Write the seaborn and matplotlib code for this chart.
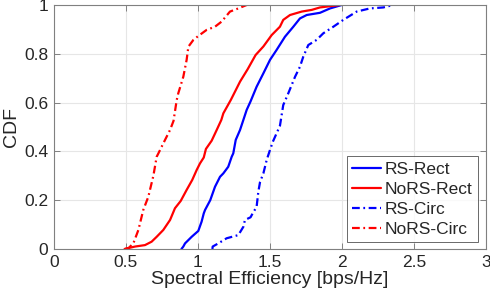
import numpy as np
import pandas as pd
import matplotlib
matplotlib.use("Agg")
import matplotlib.pyplot as plt
import seaborn as sns

# ---- data (CDF level vs spectral efficiency) ----
series_names = ["RS-Rect", "NoRS-Rect", "RS-Circ", "NoRS-Circ"]

rs_rect_x = [0.885, 0.898, 0.91, 0.956, 1.002, 1.025, 1.04, 1.049, 1.085, 1.118, 1.153, 1.176,
             1.21, 1.234, 1.245, 1.262, 1.292, 1.31, 1.338, 1.365, 1.407, 1.454, 1.5, 1.546,
             1.604, 1.662, 1.708, 1.755, 1.847, 1.917, 1.998]
rs_rect_y = [0.0, 0.01, 0.023, 0.05, 0.074, 0.112, 0.146, 0.16, 0.2, 0.255, 0.296, 0.31,
             0.337, 0.378, 0.392, 0.447, 0.488, 0.52, 0.57, 0.605, 0.665, 0.72, 0.775, 0.816,
             0.87, 0.911, 0.945, 0.959, 0.968, 0.986, 1.0]

nors_rect_x = [0.49, 0.5625, 0.632, 0.678, 0.713, 0.759, 0.806, 0.84, 0.88, 0.921, 0.96, 0.991,
               1.014, 1.04, 1.055, 1.095, 1.13, 1.162, 1.176, 1.228, 1.292, 1.345, 1.40, 1.454,
               1.512, 1.569, 1.592, 1.639, 1.72, 1.79, 1.847, 1.986]
nors_rect_y = [0.0, 0.01, 0.016, 0.03, 0.05, 0.078, 0.119, 0.167, 0.197, 0.242, 0.283, 0.324,
               0.351, 0.375, 0.41, 0.444, 0.488, 0.529, 0.556, 0.611, 0.686, 0.737, 0.795, 0.83,
               0.877, 0.911, 0.939, 0.959, 0.973, 0.98, 0.99, 1.0]

rs_circ_x = [1.10, 1.102, 1.141, 1.199, 1.28, 1.315, 1.326, 1.365, 1.373, 1.407, 1.419, 1.431,
             1.454, 1.477, 1.5, 1.52, 1.569, 1.592, 1.627, 1.674, 1.708, 1.731, 1.766, 1.824,
             1.87, 1.94, 2.009, 2.102, 2.194, 2.287, 2.356]
rs_circ_y = [0.0, 0.01, 0.023, 0.044, 0.057, 0.091, 0.119, 0.13, 0.139, 0.173, 0.235, 0.275,
             0.31, 0.365, 0.406, 0.44, 0.505, 0.59, 0.638, 0.706, 0.747, 0.788, 0.836, 0.857,
             0.884, 0.911, 0.939, 0.973, 0.986, 0.99, 1.0]

nors_circ_x = [0.493, 0.52, 0.551, 0.586, 0.62, 0.655, 0.69, 0.713, 0.725, 0.771, 0.806, 0.83,
               0.852, 0.863, 0.898, 0.921, 0.933, 0.968, 1.002, 1.06, 1.118, 1.164, 1.222,
               1.28, 1.338]
nors_circ_y = [0.0, 0.005, 0.023, 0.078, 0.16, 0.214, 0.30, 0.378, 0.392, 0.447, 0.488, 0.525,
               0.61, 0.638, 0.706, 0.775, 0.829, 0.857, 0.873, 0.898, 0.911, 0.932, 0.973,
               0.986, 1.0]

x_ticks = [0, 0.5, 1, 1.5, 2, 2.5, 3]
x_tick_labels = ["0", "0.5", "1", "1.5", "2", "2.5", "3"]
y_ticks = [0, 0.2, 0.4, 0.6, 0.8, 1.0]
y_tick_labels = ["0", "0.2", "0.4", "0.6", "0.8", "1"]

# ---- build long table ----
frames = []
for name, xs, ys in [("RS-Rect", rs_rect_x, rs_rect_y),
                     ("NoRS-Rect", nors_rect_x, nors_rect_y),
                     ("RS-Circ", rs_circ_x, rs_circ_y),
                     ("NoRS-Circ", nors_circ_x, nors_circ_y)]:
    frames.append(pd.DataFrame({"x": xs, "y": ys, "series": name}))
df = pd.concat(frames, ignore_index=True)

sns.set_theme(style="whitegrid")
plt.rcParams["font.family"] = ["Liberation Sans", "DejaVu Sans"]
axis_gray = "#262626"

fig = plt.figure(figsize=(4.9, 3.0), dpi=100)
ax = fig.add_axes([54/490, 1 - 249/300, 432/490, 244/300])

palette = {"RS-Rect": "#0000ff", "NoRS-Rect": "#ff0000",
           "RS-Circ": "#0000ff", "NoRS-Circ": "#ff0000"}
dashes = {"RS-Rect": "", "NoRS-Rect": "",
          "RS-Circ": (3.5, 1.6, 0.8, 1.6), "NoRS-Circ": (3.5, 1.6, 0.8, 1.6)}

sns.lineplot(data=df, x="x", y="y", hue="series", style="series",
             hue_order=series_names, style_order=series_names,
             palette=palette, dashes=dashes, sort=False, estimator=None,
             units="series", linewidth=1.6, ax=ax)

ax.set_xlim(0, 3)
ax.set_ylim(0, 1)
ax.set_xticks(x_ticks)
ax.set_xticklabels(x_tick_labels)
ax.set_yticks(y_ticks)
ax.set_yticklabels(y_tick_labels)
ax.set_xlabel("Spectral Efficiency [bps/Hz]", fontsize=14, color=axis_gray, labelpad=1)
ax.set_ylabel("CDF", fontsize=14, color=axis_gray, labelpad=3)

ax.grid(True, color="#e6e6e6", linewidth=0.8)
ax.set_facecolor("white")
for s in ax.spines.values():
    s.set_visible(True)
    s.set_color("#808080")
    s.set_linewidth(0.8)
ax.tick_params(axis="both", which="both", direction="in", length=4, width=0.7,
               colors="#808080", labelcolor=axis_gray, labelsize=12.5,
               top=True, right=True, bottom=True, left=True, pad=4)

leg = ax.legend(loc="lower right", bbox_to_anchor=(0.981, 0.029), borderaxespad=0,
                fontsize=12.5, frameon=True, fancybox=False, handlelength=1.7,
                handletextpad=0.2, labelspacing=0.28, borderpad=0.3, title=None)
leg.get_frame().set_edgecolor("#262626")
leg.get_frame().set_linewidth(0.6)
for line in leg.get_lines():
    line.set_linewidth(1.6)

fig.savefig("out.png", dpi=100)
